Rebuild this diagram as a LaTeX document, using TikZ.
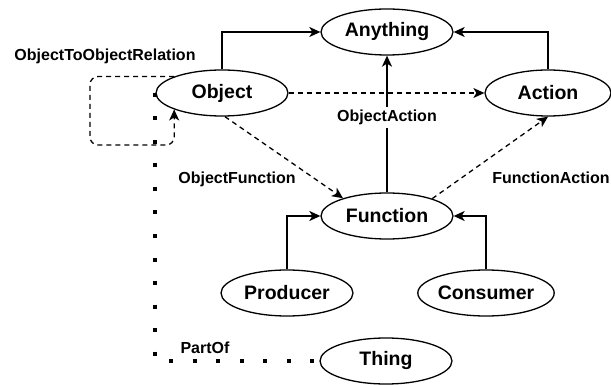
\documentclass[tikz,border=0pt]{standalone}
\usepackage{fontspec}
\setmainfont{Liberation Sans}
\usetikzlibrary{arrows.meta,shapes.geometric}
\begin{document}
\begin{tikzpicture}[x=1pt,y=-1pt,
  cls/.style={draw, ellipse, line width=1.3pt, minimum width=132pt, minimum height=46pt, inner sep=0pt,
    font=\fontsize{19.5}{22}\selectfont\bfseries},
  lbl/.style={font=\fontsize{16}{18}\selectfont\bfseries, inner sep=1pt},
  solidarrow/.style={line width=1.5pt, -{Stealth[length=11pt,width=10pt,inset=3pt]}},
  dasharrow/.style={line width=1.3pt, dash pattern=on 5pt off 4pt, -{Stealth[length=11pt,width=10pt,inset=3pt]}},
  partof/.style={line width=4pt, dash pattern=on 4pt off 19.5pt, line cap=butt}
]
\useasboundingbox (0,0) rectangle (611,385);
\node[cls] (Anything) at (387,32) {Anything};
\node[cls] (Object) at (222,93) {Object};
\node[cls, minimum width=126pt] (Action) at (548,93) {Action};
\node[cls] (Function) at (387,216) {Function};
\node[cls] (Producer) at (287,293) {Producer};
\node[cls] (Consumer) at (486,293) {Consumer};
\node[cls] (Thing) at (386,361) {Thing};

\draw[solidarrow] (Object.north) |- (Anything.west);
\draw[solidarrow] (Action.north) |- (Anything.east);
\draw[solidarrow] (Function.north) -- node[lbl, fill=white, inner sep=3pt, pos=0.55] (oa) {ObjectAction} (Anything.south);
\draw[solidarrow] (Producer.north) |- (Function.west);
\draw[solidarrow] (Consumer.north) |- (Function.east);

\draw[dasharrow] (Object.east) -- (Action.west);
\draw[dasharrow] (Object.-83) -- (Function.158);
\draw[dasharrow] (Function.21) -- (Action.south);

\coordinate (loopc) at (90,145);
\draw[dasharrow, rounded corners=8pt] (Object.161) -| (loopc) -| (Object.-161);

\draw[partof] (Object.west) |- (Thing.west);

\node[lbl] (l1) at (105,56) {ObjectToObjectRelation};
\node[lbl] (l2) at (237,179) {ObjectFunction};
\node[lbl] (l3) at (551,178) {FunctionAction};
\node[lbl] (l4) at (205,348) {PartOf};
\end{tikzpicture}
\end{document}
